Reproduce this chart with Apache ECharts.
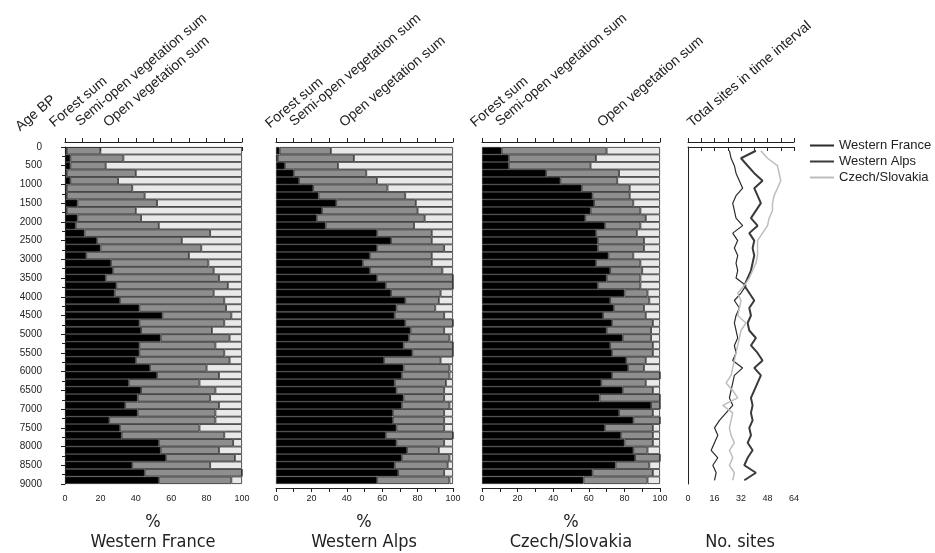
<!DOCTYPE html>
<html>
<head>
<meta charset="utf-8">
<script src="https://cdn.jsdelivr.net/npm/echarts@6/dist/echarts.min.js"></script>
<style>
  html, body { margin: 0; background: #fff; }
  #chart { width: 935px; height: 553px; }
</style>
</head>
<body>
<div id="chart"></div>
<script>
// mid-point of each 200-year interval (Age BP)
const ages = [100, 300, 500, 700, 900, 1100, 1300, 1500, 1700, 1900, 2100, 2300, 2500, 2700, 2900,
  3100, 3300, 3500, 3700, 3900, 4100, 4300, 4500, 4700, 4900, 5100, 5300, 5500, 5700, 5900,
  6100, 6300, 6500, 6700, 6900, 7100, 7300, 7500, 7700, 7900, 8100, 8300, 8500, 8700, 8900]

// Western France (%)
const wfForest = [1, 3, 3, 1, 3, 1, 1, 7, 1, 7, 6, 11, 18, 20, 12, 26, 27, 23, 29, 28, 31, 42, 55, 42, 43,
  54, 42, 42, 40, 48, 52, 36, 43, 41, 34, 41, 25, 31, 32, 53, 54, 57, 38, 45, 53]
const wfSemi = [19, 30, 20, 39, 27, 37, 44, 45, 39, 36, 47, 71, 48, 57, 58, 55, 57, 64, 63, 56, 59, 49, 39, 48, 40,
  39, 43, 48, 53, 32, 35, 40, 42, 41, 53, 44, 60, 45, 58, 42, 33, 39, 44, 55, 41]
const wfOpen = [80, 67, 77, 60, 70, 62, 55, 48, 60, 57, 47, 18, 34, 23, 30, 19, 16, 13, 8, 16, 10, 9, 6, 10, 17,
  7, 15, 10, 7, 20, 13, 24, 15, 18, 13, 15, 15, 24, 10, 5, 13, 4, 18, 0, 6]

// Western Alps (%)
const waForest = [2, 1, 5, 10, 13, 21, 24, 34, 26, 23, 28, 57, 65, 57, 53, 49, 53, 57, 62, 65, 73, 68, 67, 73, 76,
  75, 72, 77, 61, 72, 71, 67, 68, 72, 71, 66, 66, 68, 62, 68, 74, 71, 67, 69, 57]
const waSemi = [29, 43, 30, 41, 44, 42, 49, 45, 54, 61, 50, 31, 23, 38, 35, 39, 41, 43, 38, 28, 19, 22, 28, 27, 19,
  23, 28, 23, 32, 26, 27, 29, 27, 23, 27, 29, 29, 27, 38, 27, 18, 27, 30, 26, 41]
const waOpen = [69, 56, 65, 49, 43, 37, 27, 21, 20, 16, 22, 12, 12, 5, 12, 12, 6, 0, 0, 7, 8, 10, 5, 0, 5,
  2, 0, 0, 7, 2, 2, 4, 5, 5, 2, 5, 5, 5, 0, 5, 8, 2, 3, 5, 2]

// Czech/Slovakia (%)
const csForest = [11, 15, 15, 36, 44, 56, 62, 63, 61, 58, 69, 64, 65, 65, 71, 64, 72, 70, 65, 80, 72, 74, 68, 73, 70,
  79, 72, 73, 81, 82, 73, 67, 79, 66, 95, 77, 85, 69, 78, 80, 85, 86, 75, 62, 57]
const csSemi = [59, 49, 46, 41, 32, 27, 21, 22, 28, 34, 20, 23, 26, 26, 14, 25, 18, 19, 24, 13, 22, 17, 24, 23, 25,
  16, 24, 23, 11, 9, 27, 25, 17, 34, 5, 19, 15, 27, 18, 16, 8, 14, 19, 34, 36]
const csOpen = [30, 36, 39, 23, 24, 17, 17, 15, 11, 8, 11, 13, 9, 9, 15, 11, 10, 11, 11, 7, 6, 9, 8, 4, 5,
  5, 4, 4, 8, 9, 0, 8, 4, 0, 0, 4, 0, 4, 4, 4, 7, 0, 6, 4, 7]

// number of sites per interval
const sitesWF = [25, 26, 28, 29, 31, 33, 29, 27, 28, 29, 33, 27, 30, 28, 30, 29, 30, 29, 35, 32, 28, 31, 29, 28, 29,
  30, 28, 29, 27, 33, 28, 27, 26, 25, 27, 23, 19, 16, 18, 16, 14, 18, 15, 17, 16]
const sitesWA = [41, 32, 36, 40, 45, 40, 42, 44, 41, 38, 42, 37, 40, 39, 40, 39, 38, 36, 34, 37, 40, 37, 38, 36, 37,
  41, 38, 42, 45, 40, 44, 42, 40, 38, 39, 38, 39, 37, 38, 36, 39, 36, 34, 41, 34]
const sitesCS = [44, 48, 54, 55, 56, 54, 52, 51, 51, 49, 48, 45, 42, 42, 42, 41, 39, 37, 34, 30, 32, 31, 30, 35, 32,
  31, 30, 29, 28, 27, 26, 23, 27, 30, 21, 27, 26, 25, 26, 28, 25, 27, 25, 28, 27]

const regions = ['Western France', 'Western Alps', 'Czech/Slovakia']
const vegNames = ['Forest sum', 'Semi-open vegetation sum', 'Open vegetation sum']

const font = 'Liberation Sans'
const titleFont = '"Liberation Sans Narrow", "DejaVu Sans Condensed", "Liberation Sans", sans-serif'
const vegColors = ['#000000', '#8e8e8e', '#e9e9e9']
const panelData = [
  [wfForest, wfSemi, wfOpen],
  [waForest, waSemi, waOpen],
  [csForest, csSemi, csOpen]
]
const panels = [
  { left: 65, width: 177, center: 153 },
  { left: 276, width: 177, center: 364 },
  { left: 482, width: 178, center: 571 }
]
const linePanel = { left: 688, width: 106, center: 740 }
const gridTop = 147
const gridHeight = 337

const axisLine = { show: true, lineStyle: { color: '#222', width: 1 } }

function bottomAxis (gridIndex, max, interval) {
  return {
    gridIndex: gridIndex,
    type: 'value',
    position: 'bottom',
    offset: 4,
    min: 0,
    max: max,
    interval: interval,
    axisLine: axisLine,
    axisTick: { show: true, length: 4, lineStyle: { color: '#222' } },
    minorTick: { show: true, splitNumber: 2, length: 4, lineStyle: { color: '#222' } },
    axisLabel: { fontSize: 9, color: '#222', fontFamily: font, margin: 6 },
    splitLine: { show: false }
  }
}
function topAxis (gridIndex, max, interval) {
  return {
    gridIndex: gridIndex,
    type: 'value',
    position: 'top',
    offset: 5,
    min: 0,
    max: max,
    interval: interval,
    axisLine: axisLine,
    axisTick: { show: true, length: 4, lineStyle: { color: '#222' } },
    axisLabel: { show: false },
    splitLine: { show: false }
  }
}

const grids = []
const xAxes = []
const yAxes = []
const series = []

panels.forEach(function (p, i) {
  grids.push({ left: p.left, width: p.width, top: gridTop, height: gridHeight })
  xAxes.push(bottomAxis(i, 100, 20))
  xAxes.push(topAxis(i, 100, 10))
  yAxes.push({
    gridIndex: i,
    type: 'category',
    inverse: true,
    data: ages,
    show: false
  })
  panelData[i].forEach(function (vals, k) {
    series.push({
      type: 'bar',
      name: vegNames[k],
      stack: 'veg' + i,
      xAxisIndex: i * 2,
      yAxisIndex: i,
      barCategoryGap: '0%',
      data: vals,
      itemStyle: {
        color: vegColors[k],
        borderColor: '#2a2a2a',
        borderWidth: 0.8
      },
      emphasis: { disabled: true }
    })
  })
})

// Age BP axis shown on the first panel
yAxes.push({
  gridIndex: 0,
  type: 'value',
  inverse: true,
  position: 'left',
  offset: 18,
  min: 0,
  max: 9000,
  interval: 500,
  axisLine: axisLine,
  axisTick: { show: true, length: 4, lineStyle: { color: '#222' } },
  minorTick: { show: true, splitNumber: 2, length: 3, lineStyle: { color: '#222' } },
  axisLabel: {
    fontSize: 10,
    color: '#222',
    fontFamily: font,
    margin: 5,
    formatter: function (v) { return String(v) }
  },
  splitLine: { show: false }
})

// number of sites panel
grids.push({ left: linePanel.left, width: linePanel.width, top: gridTop, height: gridHeight })
xAxes.push(bottomAxis(3, 64, 16))
xAxes.push(topAxis(3, 64, 8))
yAxes.push({
  gridIndex: 3,
  type: 'value',
  inverse: true,
  min: 0,
  max: 9000,
  axisLine: axisLine,
  axisTick: { show: false },
  axisLabel: { show: false },
  splitLine: { show: false }
})

const siteSeries = [
  { name: 'Western France', vals: sitesWF, color: '#2b2b2b', width: 1.2 },
  { name: 'Western Alps', vals: sitesWA, color: '#3a3a3a', width: 2 },
  { name: 'Czech/Slovakia', vals: sitesCS, color: '#bdbdbd', width: 1.5 }
]
siteSeries.forEach(function (s) {
  series.push({
    type: 'line',
    name: s.name,
    xAxisIndex: 6,
    yAxisIndex: 4,
    symbol: 'none',
    data: s.vals.map(function (v, j) { return [v, ages[j]] }),
    lineStyle: { color: s.color, width: s.width },
    itemStyle: { color: s.color },
    emphasis: { disabled: true }
  })
})

// rotated column headers
const headers = [
  { text: 'Age BP', x: 22, y: 134 },
  { text: 'Forest sum', x: 56, y: 130 },
  { text: 'Semi-open vegetation sum', x: 82, y: 129 },
  { text: 'Open vegetation sum', x: 110, y: 130 },
  { text: 'Forest sum', x: 272, y: 131 },
  { text: 'Semi-open vegetation sum', x: 296, y: 129 },
  { text: 'Open vegetation sum', x: 346, y: 130 },
  { text: 'Forest sum', x: 477, y: 130 },
  { text: 'Semi-open vegetation sum', x: 502, y: 129 },
  { text: 'Open vegetation sum', x: 604, y: 130 },
  { text: 'Total sites in time interval', x: 694, y: 130 }
]
const graphics = headers.map(function (h) {
  return {
    type: 'text',
    x: h.x,
    y: h.y,
    rotation: 40 * Math.PI / 180,
    style: {
      text: h.text,
      fontSize: 14,
      fontFamily: font,
      fill: '#222',
      textAlign: 'left',
      textVerticalAlign: 'bottom'
    }
  }
})
panels.forEach(function (p, i) {
  graphics.push({
    type: 'text', x: p.center, y: 522,
    style: { text: '%', fontSize: 18, fontFamily: titleFont, fill: '#222', textAlign: 'center', textVerticalAlign: 'middle' }
  })
  graphics.push({
    type: 'text', x: p.center, y: 542,
    style: { text: regions[i], fontSize: 18, fontFamily: titleFont, fill: '#222', textAlign: 'center', textVerticalAlign: 'middle' }
  })
})
graphics.push({
  type: 'text', x: linePanel.center, y: 542,
  style: { text: 'No. sites', fontSize: 18, fontFamily: titleFont, fill: '#222', textAlign: 'center', textVerticalAlign: 'middle' }
})

const myChart = echarts.init(document.getElementById('chart'))
const option = {
  animation: false,
  backgroundColor: '#fff',
  legend: {
    data: ['Western France', 'Western Alps', 'Czech/Slovakia'],
    orient: 'vertical',
    left: 804,
    top: 134,
    itemWidth: 24,
    itemHeight: 10,
    itemGap: 3,
    itemStyle: { opacity: 0 },
    textStyle: { fontSize: 13, fontFamily: font, color: '#222' }
  },
  grid: grids,
  xAxis: xAxes,
  yAxis: yAxes,
  series: series,
  graphic: graphics
}
myChart.setOption(option)
</script>
</body>
</html>
